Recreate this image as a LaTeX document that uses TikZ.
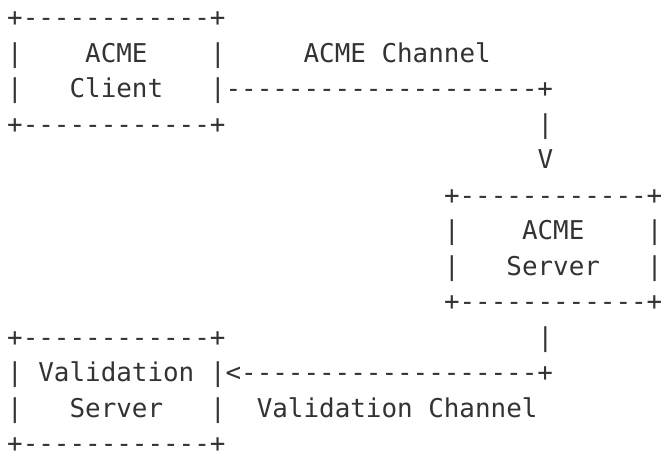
\documentclass[tikz,border=0pt]{standalone}
\usepackage{fontspec}
\setmonofont{DejaVu Sans Mono}
\definecolor{ink}{HTML}{333333}
\tikzset{
  ascii/.style={anchor=base west, inner sep=0pt, outer sep=0pt, text=ink,
    font=\ttfamily\fontsize{25.9pt}{30pt}\selectfont}
}
\newcommand\cellat[2]{({7.2pt+15.6pt*(#1)},{-26.5pt-35.5pt*(#2)})}
\begin{document}
\begin{tikzpicture}
\useasboundingbox (0,0) rectangle (663pt,-453pt);
% ACME Client box
\node[ascii] (ct) at \cellat{0}{0} {+------------+};
\node[ascii] (cl1) at \cellat{0}{1} {|};
\node[ascii] (cn1) at \cellat{5}{1} {ACME};
\node[ascii] (cr1) at \cellat{13}{1} {|};
\node[ascii] (achan) at \cellat{19}{1} {ACME Channel};
\node[ascii] (cl2) at \cellat{0}{2} {|};
\node[ascii] (cn2) at \cellat{4}{2} {Client};
\node[ascii] (cr2) at \cellat{13}{2} {|--------------------+};
\node[ascii] (cb) at \cellat{0}{3} {+------------+};
\node[ascii] (v1) at \cellat{34}{3} {|};
\node[ascii] (v2) at \cellat{34}{4} {V};
% ACME Server box
\node[ascii] (st) at \cellat{28}{5} {+------------+};
\node[ascii] (sl1) at \cellat{28}{6} {|};
\node[ascii] (sn1) at \cellat{33}{6} {ACME};
\node[ascii] (sr1) at \cellat{41}{6} {|};
\node[ascii] (sl2) at \cellat{28}{7} {|};
\node[ascii] (sn2) at \cellat{32}{7} {Server};
\node[ascii] (sr2) at \cellat{41}{7} {|};
\node[ascii] (sb) at \cellat{28}{8} {+------------+};
% Validation Server box
\node[ascii] (vt) at \cellat{0}{9} {+------------+};
\node[ascii] (w1) at \cellat{34}{9} {|};
\node[ascii] (vl1) at \cellat{0}{10} {|};
\node[ascii] (vn1) at \cellat{2}{10} {Validation};
\node[ascii] (vr1) at \cellat{13}{10} {|<-------------------+};
\node[ascii] (vl2) at \cellat{0}{11} {|};
\node[ascii] (vn2) at \cellat{4}{11} {Server};
\node[ascii] (vr2) at \cellat{13}{11} {|};
\node[ascii] (vchan) at \cellat{16}{11} {Validation Channel};
\node[ascii, text depth=0pt] (vb) at \cellat{0}{12} {+------------+};
\end{tikzpicture}
\end{document}
